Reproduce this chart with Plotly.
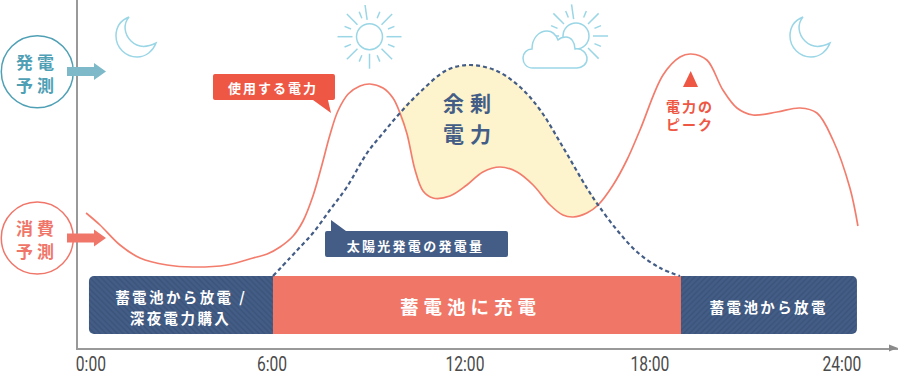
import json
import math
import plotly.graph_objects as go

# ---- data -----------------------------------------------------------------
hours_use = [-0.06, 0.375, 1.0, 1.625, 2.47, 3.28, 4.34, 5.16, 5.6, 6.0, 6.41, 6.72, 7.03, 7.31, 7.56, 7.81, 8.13, 8.5, 8.81,
             9.22, 9.53, 9.75, 9.97, 10.22, 10.47, 10.78, 11.31, 11.84, 12.34, 12.88, 13.41, 13.91, 14.44, 14.84,
             15.16, 15.59, 15.94, 16.41, 16.84, 17.25, 17.97, 18.5, 18.84, 19.34, 19.84, 20.28, 20.78, 21.53, 22.25, 22.78,
             23.28, 23.81, 24.06]
power_use = [135, 123, 103, 90, 83, 81, 83, 90, 94, 101, 112, 127, 152, 183, 213, 237, 254, 262, 264,
             260, 250, 235, 214, 178, 157, 150, 152, 163, 176, 181, 176, 163, 143, 133,
             131, 135, 143, 163, 188, 218, 273, 291, 294, 288, 258, 240, 233, 236, 240, 235,
             208, 160, 122]
hours_solar = [5.78, 6.31, 6.63, 7.03, 7.56, 8.09, 8.72, 9.22, 9.75, 10.38, 11.22, 11.94, 12.78, 13.5, 14.13, 14.84, 15.59, 15.94,
               16.53, 17.16, 17.88, 18.5]
power_solar = [72, 90, 101, 115, 138, 161, 195, 215, 235, 256, 278, 283, 277, 261, 238, 201, 160, 143, 118, 96, 80, 72]
tick_hours = [0.09, 5.75, 11.78, 17.56, 23.56]
tick_labels = ["0:00", "6:00", "12:00", "18:00", "24:00"]
band_starts = [6.5, 18.0, 5.78]
band_lengths = [-6.47, 6.03, 12.75]

# ---- colours / layout ---------------------------------------------------
W, H = 899, 375
L, R, B = 78, 898, 348
CORAL, RED, NAVY = "#f27d6d", "#ee5744", "#435d86"
TEAL, TEAL_A, SKY = "#4fa0b5", "#7db9c8", "#9ad6e6"
SALMON = "#f0766a"
JP = "Noto Sans CJK JP"


def px(x):
    return (x - L) / (R - L)


def py(y):
    return (B - y) / B


def path(cmds):
    """Turn command tuples in page pixels into a paper-referenced SVG path."""
    out = []
    for c in cmds:
        if c[0] == "Z":
            out.append("Z")
            continue
        vals = c[1:]
        pts = [f"{px(vals[i]):.5f},{py(vals[i+1]):.5f}" for i in range(0, len(vals), 2)]
        if c[0] == "L":
            out.extend("L" + p for p in pts)
        else:
            out.append(c[0] + " ".join(pts))
    return " ".join(out)


shapes, annos = [], []


def shape(cmds, fill=None, line=None, width=1.5):
    shapes.append(dict(type="path", xref="paper", yref="paper", path=path(cmds), layer="above",
                       fillcolor=fill or "rgba(0,0,0,0)",
                       line=dict(color=line or "rgba(0,0,0,0)", width=width if line else 0)))


def text(s, x, y, size, color, bold=True):
    annos.append(dict(text=s, x=px(x), y=py(y), xref="paper", yref="paper", showarrow=False,
                      xanchor="center", yanchor="middle", align="center",
                      font=dict(family=JP, size=size, color=color, weight=700 if bold else 500)))


def circle(cx, cy, r, color):
    shapes.append(dict(type="circle", xref="paper", yref="paper", x0=px(cx - r), x1=px(cx + r),
                       y0=py(cy + r), y1=py(cy - r), line=dict(color=color, width=1.5),
                       fillcolor="rgba(0,0,0,0)", layer="above"))


def arrow(cy, color):
    shape([("M", 67, cy - 4.5), ("L", 94, cy - 4.5, 94, cy - 8.5, 106, cy, 94, cy + 8.5, 94, cy + 4.5, 67, cy + 4.5), ("Z",)],
          fill=color)


def moon(dx):
    shape([("M", 129 + dx, 17), ("C", 119 + dx, 21, 116 + dx, 29, 116 + dx, 36),
           ("C", 116 + dx, 48, 126 + dx, 57, 137 + dx, 57), ("C", 146 + dx, 57, 153 + dx, 51, 156 + dx, 43),
           ("C", 146 + dx, 48, 137 + dx, 47, 131 + dx, 41), ("C", 124 + dx, 34, 123 + dx, 24, 129 + dx, 17), ("Z",)],
          line=SKY, width=1.5)


def sun(cx, cy, r=13):
    circle(cx, cy, r, SKY)
    for k in range(16):
        a = math.radians(k * 22.5 - 90)
        if k == 0:
            a = math.radians(-98)
        r0, r1 = (17, 32) if k % 2 == 0 else (20, 27)
        shape([("M", cx + r0 * math.cos(a), cy + r0 * math.sin(a)), ("L", cx + r1 * math.cos(a), cy + r1 * math.sin(a))],
              line=SKY, width=1.5)


# left badges
circle(37.3, 71.7, 36, TEAL)
circle(37.3, 238, 36, SALMON)
arrow(71.5, TEAL_A)
arrow(238, SALMON)
text("発電", 37, 61, 17, TEAL)
text("予測", 37, 84, 17, TEAL)
text("消費", 37, 227, 17, SALMON)
text("予測", 37, 250, 17, SALMON)

# icons
moon(0)
moon(674)
sun(369.5, 36.7)
sun(576, 36)
shape([("M", 533, 68), ("C", 526, 68, 523, 63, 523, 58), ("C", 523, 53, 527, 49, 532, 49),
       ("C", 532, 38, 539, 31, 547, 31), ("C", 552, 31, 556, 35, 558, 40), ("C", 560, 38, 563, 37, 566, 37),
       ("C", 571, 37, 575, 42, 575, 49), ("C", 582, 48, 587, 53, 587, 59), ("C", 587, 64, 582, 68, 577, 68), ("Z",)],
      fill="white", line=SKY, width=1.5)

# callouts
shape([("M", 215, 74), ("L", 333, 74), ("Q", 335, 74, 335, 76), ("L", 335, 98), ("Q", 335, 100, 333, 100),
       ("L", 328, 100, 331, 113, 313, 100, 215, 100), ("Q", 213, 100, 213, 98), ("L", 213, 76), ("Q", 213, 74, 215, 74), ("Z",)],
      fill=RED)
text("使用する電力", 273, 87, 13, "white")
shape([("M", 327, 231), ("L", 331, 231, 331, 220, 346, 231, 506, 231), ("Q", 508, 231, 508, 233), ("L", 508, 255),
       ("Q", 508, 257, 506, 257), ("L", 327, 257), ("Q", 325, 257, 325, 255), ("L", 325, 233), ("Q", 325, 231, 327, 231), ("Z",)],
      fill=NAVY)
text("太陽光発電の発電量", 415, 245, 13, "white")

# peak
shape([("M", 690.7, 71), ("L", 698, 87, 683, 87), ("Z",)], fill=RED)
text("電力の", 690, 106, 14, RED)
text("ピーク", 690, 124, 14, RED)

# big labels
text("余剰", 470, 102, 21, NAVY)
text("電力", 470, 133, 21, NAVY)
text("蓄電池から放電 /", 181, 296, 14.5, "white")
text("深夜電力購入", 181, 317, 14.5, "white")
text("蓄電池に充電", 471, 306, 18.5, "white")
text("蓄電池から放電", 769, 306, 14.5, "white")

# x-axis arrow head
shape([("M", 889, 344.5), ("L", 898, 348, 889, 351.5), ("Z",)], fill="#8a8a8a")

# ---- figure ---------------------------------------------------------------
fig = go.Figure()
i0, i1 = hours_solar.index(9.75), hours_solar.index(15.94)
j0, j1 = hours_use.index(9.97), hours_use.index(15.59)
fig.add_trace(go.Scatter(
    x=hours_solar[i0:i1 + 1] + hours_use[j0:j1 + 1][::-1] + hours_solar[i0:i0 + 1],
    y=power_solar[i0:i1 + 1] + power_use[j0:j1 + 1][::-1] + power_solar[i0:i0 + 1],
    fill="toself", fillcolor="#fdf3cc", mode="none", line=dict(shape="spline"), hoverinfo="skip"))
band_fill = [
    dict(color=NAVY, pattern=dict(shape="\\", bgcolor=NAVY, fgcolor="#3b5379", size=4, solidity=0.35, fillmode="replace"), cornerradius=5),
    dict(color=NAVY, pattern=dict(shape="/", bgcolor=NAVY, fgcolor="#3b5379", size=4, solidity=0.35, fillmode="replace"), cornerradius=5),
    dict(color="#f07767", cornerradius=0),
]
for s, l, m in zip(band_starts, band_lengths, band_fill):
    fig.add_trace(go.Bar(x=[l], base=[s], y=[43], width=[58], orientation="h", marker=dict(line=dict(width=0), **m), hoverinfo="skip"))
fig.add_trace(go.Scatter(x=hours_use, y=power_use, mode="lines", line=dict(color=CORAL, width=1.7, shape="spline", smoothing=1)))
fig.add_trace(go.Scatter(x=hours_solar, y=power_solar, mode="lines",
                         line=dict(color=NAVY, width=2.2, shape="spline", dash="4px,3px", smoothing=1)))

fig.update_layout(
    width=W, height=H, margin=dict(l=L, r=W - R, t=0, b=H - B, autoexpand=False), showlegend=False, barmode="overlay",
    paper_bgcolor="white", plot_bgcolor="white", shapes=shapes, annotations=annos,
    xaxis=dict(range=[(L - 88) / 32, (R - 88) / 32], tickvals=tick_hours, ticktext=tick_labels, showgrid=False, zeroline=False,
               showline=True, linecolor="#999999", linewidth=1.5, ticks="", automargin=False,
               tickfont=dict(family="Roboto", size=20, color="#4a4a4a"), ticklabelstandoff=-3),
    yaxis=dict(range=[0, B], showticklabels=False, showgrid=False, zeroline=False, showline=True,
               linecolor="#999999", linewidth=1.5, ticks="", automargin=False),
)

spacing = {"発電": 4, "予測": 4, "消費": 4, "使用する電力": 2, "太陽光発電の発電量": 2.3, "電力の": 2, "ピーク": 2,
           "余剰": 6, "電力": 6, "蓄電池から放電 /": 2.4, "深夜電力購入": 2.4, "蓄電池に充電": 5, "蓄電池から放電": 2.4}
js = (
    "document.documentElement.style.overflow='hidden';document.body.style.margin='0';"
    "var m=%s;document.querySelectorAll('.annotation-text').forEach(function(t){var s=m[t.textContent];"
    "if(s)t.style.letterSpacing=s+'px';});"
    "document.querySelectorAll('.xtick text').forEach(function(t){var w=t.getComputedTextLength();"
    "t.setAttribute('lengthAdjust','spacingAndGlyphs');t.setAttribute('textLength',(w*0.78).toFixed(1));});"
) % json.dumps(spacing, ensure_ascii=False)
fig.write_html("out.html", post_script=js, config={"displayModeBar": False})
